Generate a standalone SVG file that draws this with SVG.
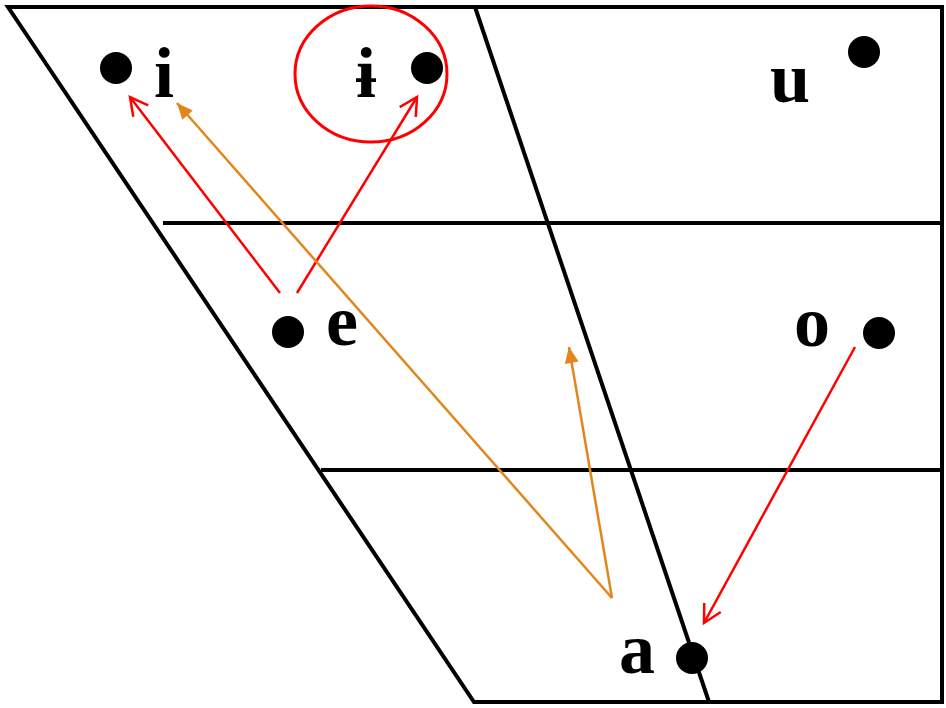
<svg xmlns="http://www.w3.org/2000/svg" width="946" height="708" viewBox="0 0 946 708">
<style>
.frame{fill:none;stroke:#000;stroke-width:4;stroke-linejoin:miter}
.grid{stroke:#000;stroke-width:4;fill:none}
.dot{fill:#000}
.lbl{font-family:"Liberation Serif","DejaVu Serif",serif;font-weight:bold;font-size:72px;fill:#000;text-anchor:middle}
.red{stroke:#f00;stroke-width:2.5;fill:none}
.org{stroke:#e2861c;stroke-width:2.5;fill:none}
</style>
<defs>
<marker id="openRed" markerUnits="userSpaceOnUse" viewBox="-20 -12 22 24" markerWidth="22" markerHeight="24" refX="0" refY="0" orient="auto" overflow="visible">
<path d="M-17.7,-9.4 L0,0 L-17.7,9.4" fill="none" stroke="#f00" stroke-width="2.5"/>
</marker>
<marker id="fillOrg" markerUnits="userSpaceOnUse" viewBox="-18 -9 20 18" markerWidth="20" markerHeight="18" refX="0" refY="0" orient="auto" overflow="visible">
<path d="M-16,-7 L0,0 L-16,7 Z" fill="#e2861c"/>
</marker>
</defs>
<rect width="946" height="708" fill="#fff"/>
<g id="chart">
<polygon class="frame" points="8,7 942,7 942,702 474,702"/>
<line class="grid" x1="475" y1="7" x2="709" y2="702"/>
<line class="grid" x1="163" y1="223" x2="942" y2="223"/>
<line class="grid" x1="321" y1="470" x2="942" y2="470"/>
</g>
<g id="node-i"><circle class="dot" cx="116" cy="68" r="16"/><text class="lbl" x="164" y="97">i</text></g>
<g id="node-barred-i"><circle class="dot" cx="427" cy="68" r="16"/><text class="lbl" x="366" y="97">ɨ</text></g>
<g id="node-u"><circle class="dot" cx="864" cy="52" r="16"/><text class="lbl" x="790" y="102">u</text></g>
<g id="node-e"><circle class="dot" cx="288" cy="332" r="16"/><text class="lbl" x="342" y="345">e</text></g>
<g id="node-o"><circle class="dot" cx="879" cy="333" r="16"/><text class="lbl" x="812" y="346">o</text></g>
<g id="node-a"><circle class="dot" cx="692" cy="658" r="16"/><text class="lbl" x="637" y="673">a</text></g>
<g id="highlight"><ellipse cx="371" cy="74" rx="76" ry="68" fill="none" stroke="#f00" stroke-width="3"/></g>
<g id="connectors">
<line class="red" x1="280" y1="293" x2="130" y2="97" marker-end="url(#openRed)"/>
<line class="red" x1="297" y1="293" x2="417" y2="97" marker-end="url(#openRed)"/>
<line class="red" x1="855" y1="347" x2="704" y2="623" marker-end="url(#openRed)"/>
<line class="org" x1="612" y1="598" x2="177" y2="103" marker-end="url(#fillOrg)"/>
<line class="org" x1="612" y1="598" x2="569" y2="347" marker-end="url(#fillOrg)"/>
</g>
</svg>
